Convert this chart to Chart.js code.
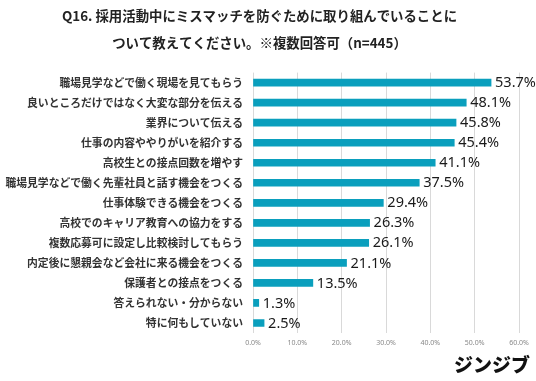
<!DOCTYPE html>
<html><head><meta charset="utf-8">
<script src="https://cdn.jsdelivr.net/npm/chart.js@4/dist/chart.umd.min.js"></script>
<style>
html,body{margin:0;padding:0;background:#fff;}
#wrap{position:relative;width:536px;height:381px;}
#logo{position:absolute;right:6px;top:352px;font-family:"Noto Sans CJK JP";font-weight:900;font-size:19px;letter-spacing:0px;color:#111;line-height:24px;}
</style></head>
<body>
<div id="wrap"><canvas id="c" width="536" height="381"></canvas><div id="logo">ジンジブ</div></div>
<script>
const titleLines = ["Q16. 採用活動中にミスマッチを防ぐために取り組んでいることに", "ついて教えてください。※複数回答可（n=445）"];
const categories = [
  "職場見学などで働く現場を見てもらう",
  "良いところだけではなく大変な部分を伝える",
  "業界について伝える",
  "仕事の内容ややりがいを紹介する",
  "高校生との接点回数を増やす",
  "職場見学などで働く先輩社員と話す機会をつくる",
  "仕事体験できる機会をつくる",
  "高校でのキャリア教育への協力をする",
  "複数応募可に設定し比較検討してもらう",
  "内定後に懇親会など会社に来る機会をつくる",
  "保護者との接点をつくる",
  "答えられない・分からない",
  "特に何もしていない"
];
const values = [53.7, 48.1, 45.8, 45.4, 41.1, 37.5, 29.4, 26.3, 26.1, 21.1, 13.5, 1.3, 2.5];
const xTicks = [0, 10, 20, 30, 40, 50, 60];

const valueLabels = {
  id: 'valueLabels',
  afterDatasetsDraw(chart) {
    const ctx = chart.ctx;
    const meta = chart.getDatasetMeta(0);
    ctx.save();
    ctx.font = '14.5px "Noto Sans"';
    ctx.fillStyle = '#1a1a1a';
    ctx.textAlign = 'left';
    ctx.textBaseline = 'middle';
    meta.data.forEach((bar, i) => {
      ctx.fillText(values[i].toFixed(1) + '%', bar.x + 4, bar.y + 0.5);
    });
    ctx.restore();
  }
};

new Chart(document.getElementById('c'), {
  type: 'bar',
  data: {
    labels: categories,
    datasets: [{
      data: values,
      backgroundColor: '#0a9fbd',
      barThickness: 7,
      borderWidth: 0
    }]
  },
  options: {
    indexAxis: 'y',
    responsive: false,
    animation: false,
    layout: { padding: { left: 0, right: 17, top: 0, bottom: 0 } },
    plugins: {
      legend: { display: false },
      tooltip: { enabled: false },
      title: {
        display: true,
        text: titleLines,
        color: '#222',
        font: { family: '"Noto Sans CJK JP"', size: 13.4, weight: 'bold', lineHeight: 2.0 },
        padding: { top: 3, bottom: 16 }
      }
    },
    scales: {
      x: {
        min: 0, max: 60,
        afterBuildTicks(scale) { scale.ticks = xTicks.map(v => ({ value: v })); },
        afterFit(scale) { scale.height = 48; },
        grid: { color: '#d9d9d9', lineWidth: 1, drawTicks: false },
        border: { display: false },
        ticks: {
          padding: 6,
          color: '#888',
          font: { family: '"Noto Sans"', size: 7 },
          callback: v => Number(v).toFixed(1) + '%'
        }
      },
      y: {
        afterFit(scale) { scale.width = 253; },
        grid: { display: false, drawTicks: false },
        border: { display: false },
        ticks: {
          padding: 10,
          color: '#333',
          font: { family: '"Noto Sans CJK JP"', size: 10.8, weight: 'bold' }
        }
      }
    }
  },
  plugins: [valueLabels]
});
</script>
</body></html>
